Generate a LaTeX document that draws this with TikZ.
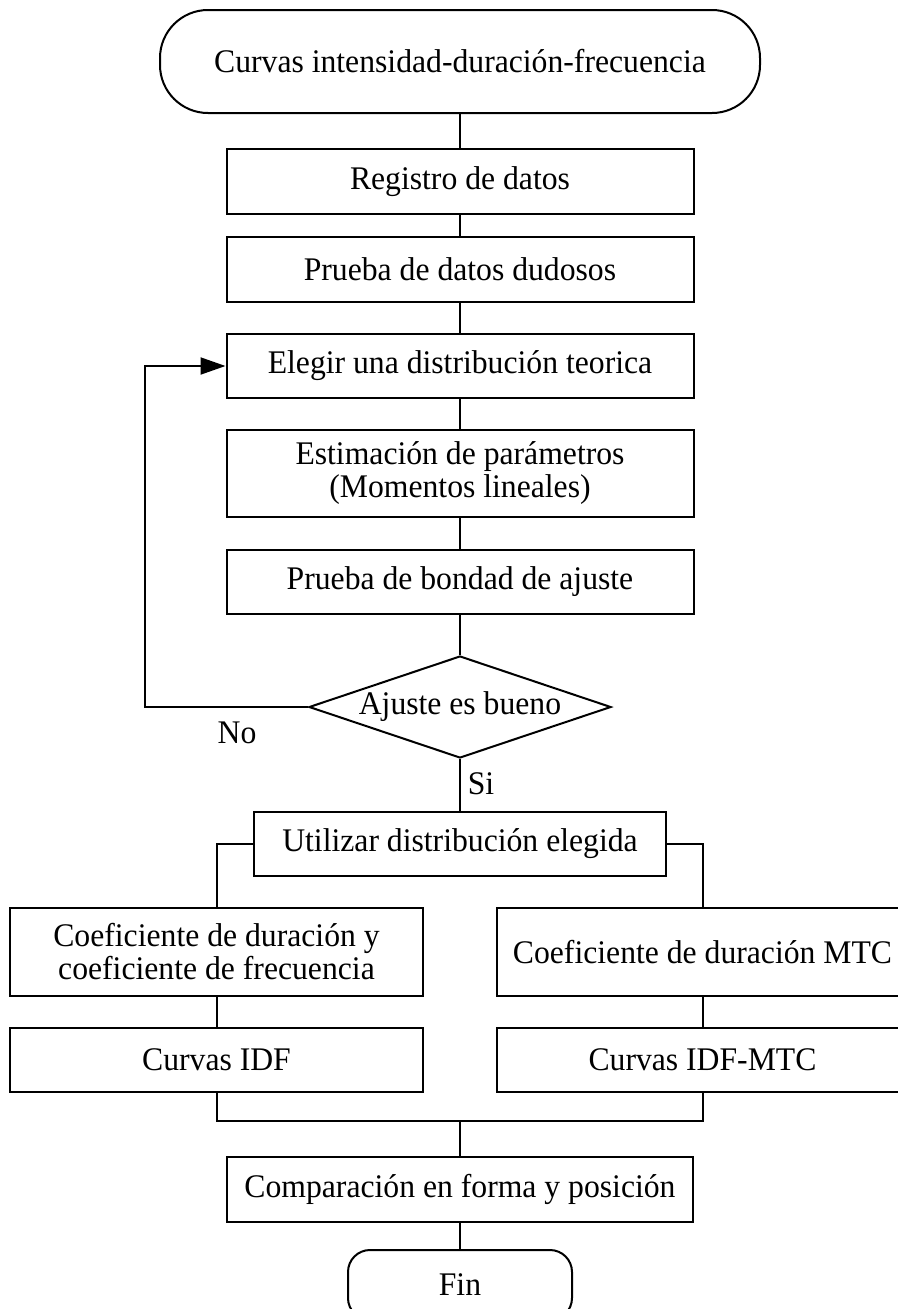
\documentclass[tikz,border=0pt]{standalone}
\usepackage{fontspec}
\setmainfont{Liberation Serif}[FakeStretch=0.96]
\usetikzlibrary{shapes.geometric,arrows.meta}
\begin{document}
\begin{tikzpicture}[x=1pt,y=-1pt,
  every node/.style={font=\fontsize{33}{33}\selectfont},
  box/.style={draw,line width=2pt,rectangle,inner sep=0pt,align=center},
  term/.style={draw,line width=2pt,rectangle,rounded corners=48pt,inner sep=0pt},
  dec/.style={draw,line width=2pt,diamond,inner sep=0pt,aspect=2.96},
  conn/.style={line width=2pt},
  lbl/.style={inner sep=0pt}]
\useasboundingbox (0,0) rectangle (897,1309);
\node[term,minimum width=600pt,minimum height=103pt] (start) at (460,61.5) {Curvas intensidad-duración-frecuencia};
\node[box,minimum width=467pt,minimum height=65pt] (reg) at (460,181.5) {Registro de datos};
\node[box,minimum width=467pt,minimum height=65pt] (dud) at (460,269.5) {Prueba de datos dudosos};
\node[box,minimum width=467pt,minimum height=64pt] (eleg) at (460,366) {Elegir una distribución teorica};
\node[box,minimum width=467pt,minimum height=87pt] (est) at (460,473.5) {Estimación de parámetros\\(Momentos lineales)};
\node[box,minimum width=467pt,minimum height=64pt] (bond) at (460,582) {Prueba de bondad de ajuste};
\node[dec,minimum width=302pt,minimum height=102pt] (aj) at (460,707) {Ajuste es bueno};
\node[box,minimum width=412pt,minimum height=64pt] (util) at (460,844) {Utilizar distribución elegida};
\node[box,minimum width=413pt,minimum height=88pt] (c1) at (216.5,952) {Coeficiente de duración y\\coeficiente de frecuencia};
\node[box,minimum width=411pt,minimum height=88pt] (c2) at (702.5,952) {Coeficiente de duración MTC};
\node[box,minimum width=413pt,minimum height=64pt] (i1) at (216.5,1060) {Curvas IDF};
\node[box,minimum width=411pt,minimum height=64pt] (i2) at (702.5,1060) {Curvas IDF-MTC};
\node[box,minimum width=466pt,minimum height=65pt] (comp) at (460,1189.5) {Comparación en forma y posición};
\node[term,rounded corners=22pt,minimum width=224pt,minimum height=70pt] (fin) at (460,1285) {Fin};
\node[lbl] (no) at (237,733) {No};
\node[lbl] (si) at (481,784) {Si};
\coordinate (loop) at (145,707);
\coordinate (join) at (460,1121);
\draw[conn] (start) -- (reg);
\draw[conn] (reg) -- (dud);
\draw[conn] (dud) -- (eleg);
\draw[conn] (eleg) -- (est);
\draw[conn] (est) -- (bond);
\draw[conn] (bond.south) -- (aj.north);
\draw[conn,-{Triangle[length=25pt,width=17pt]}] (aj.west) -- (loop) |- (eleg.west);
\draw[conn] (aj.south) -- (util.north);
\draw[conn] (util.west) -| (c1.north);
\draw[conn] (util.east) -| (c2.north);
\draw[conn] (c1) -- (i1);
\draw[conn] (c2) -- (i2);
\draw[conn] (i1.south) |- (join) -| (i2.south);
\draw[conn] (join) -- (comp);
\draw[conn] (comp) -- (fin);
\end{tikzpicture}
\end{document}
